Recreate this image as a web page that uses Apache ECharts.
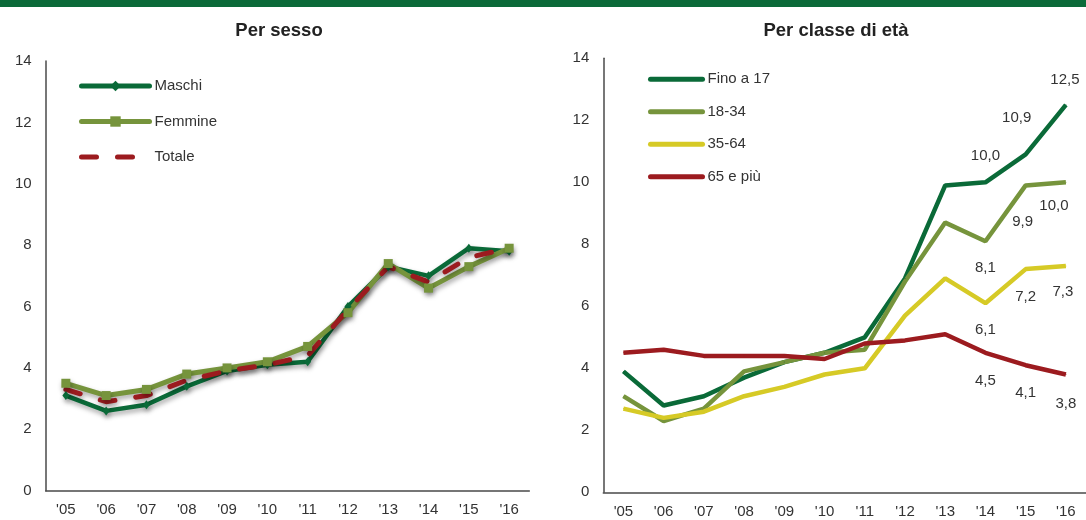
<!DOCTYPE html>
<html>
<head>
<meta charset="utf-8">
<script src="https://cdn.jsdelivr.net/npm/echarts@6/dist/echarts.min.js"></script>
<style>
html,body{margin:0;padding:0;background:#fff;}
#chart{width:1086px;height:520px;}
</style>
</head>
<body>
<div id="chart"></div>
<script>
// ---- data ----
const years = ["'05","'06","'07","'08","'09","'10","'11","'12","'13","'14","'15","'16"];
const yTicks = [0, 2, 4, 6, 8, 10, 12, 14];

const titleLeft = 'Per sesso';
const titleRight = 'Per classe di età';

const maschi  = [3.1, 2.6, 2.8, 3.4, 3.9, 4.1, 4.2, 6.0, 7.3, 7.0, 7.9, 7.8];
const femmine = [3.5, 3.1, 3.3, 3.8, 4.0, 4.2, 4.7, 5.8, 7.4, 6.6, 7.3, 7.9];
const totale  = [3.3, 2.9, 3.1, 3.6, 3.9, 4.1, 4.4, 5.9, 7.3, 6.8, 7.6, 7.9];

const fino17  = [3.9, 2.8, 3.1, 3.7, 4.2, 4.5, 5.0, 6.9, 9.9, 10.0, 10.9, 12.5];
const eta1834 = [3.1, 2.3, 2.7, 3.9, 4.2, 4.5, 4.6, 6.8, 8.7, 8.1, 9.9, 10.0];
const eta3564 = [2.7, 2.4, 2.6, 3.1, 3.4, 3.8, 4.0, 5.7, 6.9, 6.1, 7.2, 7.3];
const eta65   = [4.5, 4.6, 4.4, 4.4, 4.4, 4.3, 4.8, 4.9, 5.1, 4.5, 4.1, 3.8];

const namesLeft  = ['Maschi', 'Femmine', 'Totale'];
const namesRight = ['Fino a 17', '18-34', '35-64', '65 e più'];

// ---- styles ----
const C_DARK = '#0a6a38';
const C_LIGHT = '#76943c';
const C_YELLOW = '#d6ca26';
const C_RED = '#9c1b1f';
const FONT = "'Liberation Sans', Arial, sans-serif";
const TXT = '#333333';
const AX = '#4a4a4a';
const DASH = [15, 21];

const fmt = v => v.toFixed(1).replace('.', ',');

function labelled(values, specs) {
  const first = values.length - specs.length;
  return values.map((v, i) => {
    if (i < first) return v;
    const s = specs[i - first];
    return {
      value: v,
      label: {
        show: true, position: s.pos, distance: s.dist, offset: s.off,
        formatter: p => fmt(p.value), color: TXT, fontFamily: FONT, fontSize: 15
      }
    };
  });
}

const axisX = (gi) => ({
  type: 'category', gridIndex: gi, data: years, boundaryGap: true,
  axisLine: { show: true, lineStyle: { color: AX, width: 1.5 } },
  axisTick: { show: false },
  axisLabel: { color: TXT, fontFamily: FONT, fontSize: 15, margin: 12, interval: 0 },
  splitLine: { show: false }
});
const axisY = (gi) => ({
  type: 'value', gridIndex: gi, min: yTicks[0], max: yTicks[yTicks.length - 1],
  interval: yTicks[1] - yTicks[0],
  axisLine: { show: true, lineStyle: { color: AX, width: 1.5 } },
  axisTick: { show: false },
  axisLabel: { color: TXT, fontFamily: FONT, fontSize: 15, margin: 14 },
  splitLine: { show: false }
});

const shadow = { shadowColor: 'rgba(0,0,0,0.35)', shadowBlur: 5, shadowOffsetY: 3, shadowOffsetX: 1 };
const noShadow = { shadowBlur: 0, shadowOffsetY: 0, shadowOffsetX: 0 };

const option = {
  animation: false,
  backgroundColor: '#ffffff',
  graphic: [
    { type: 'rect', left: 0, top: 0, shape: { width: 1086, height: 7 }, style: { fill: '#0b6a39' } }
  ],
  title: [
    { text: titleLeft, left: 274, top: 26, textAlign: 'center', textVerticalAlign: 'middle',
      textStyle: { fontFamily: FONT, fontSize: 18.5, fontWeight: 'bold', color: '#222' } },
    { text: titleRight, left: 831, top: 26, textAlign: 'center', textVerticalAlign: 'middle',
      textStyle: { fontFamily: FONT, fontSize: 18.5, fontWeight: 'bold', color: '#222' } }
  ],
  legend: [
    {
      data: [
        { name: namesLeft[0] },
        { name: namesLeft[1] },
        { name: namesLeft[2], itemStyle: { opacity: 0 }, lineStyle: Object.assign({ width: 5, cap: 'round', type: DASH }, noShadow) }
      ],
      orient: 'vertical', left: 79, top: 78.5, padding: 0,
      itemWidth: 68, itemHeight: 13, itemGap: 20.5,
      lineStyle: Object.assign({ width: 5, cap: 'round' }, noShadow),
      itemStyle: noShadow,
      textStyle: { color: TXT, fontFamily: FONT, fontSize: 15, lineHeight: 13 },
      selectedMode: false
    },
    {
      data: namesRight, orient: 'vertical', left: 648, top: 71.7, padding: 0,
      itemWidth: 52, itemHeight: 10, itemGap: 17.5,
      itemStyle: { opacity: 0 },
      lineStyle: { width: 5, cap: 'round' },
      textStyle: { color: TXT, fontFamily: FONT, fontSize: 15, lineHeight: 10 },
      selectedMode: false
    }
  ],
  grid: [
    { left: 45.7, top: 61, width: 483.6, height: 429.7 },
    { left: 603.3, top: 58.3, width: 486, height: 434 }
  ],
  xAxis: [axisX(0), axisX(1)],
  yAxis: [axisY(0), axisY(1)],
  series: [
    { name: namesLeft[0], type: 'line', xAxisIndex: 0, yAxisIndex: 0, data: maschi,
      symbol: 'diamond', symbolSize: [7, 9], color: C_DARK,
      lineStyle: Object.assign({ width: 4.5, color: C_DARK }, shadow),
      itemStyle: Object.assign({ color: C_DARK }, shadow) },
    { name: namesLeft[1], type: 'line', xAxisIndex: 0, yAxisIndex: 0, data: femmine,
      symbol: 'rect', symbolSize: 9, color: C_LIGHT,
      lineStyle: Object.assign({ width: 5, color: C_LIGHT }, shadow),
      itemStyle: Object.assign({ color: C_LIGHT }, shadow) },
    { name: namesLeft[2], type: 'line', xAxisIndex: 0, yAxisIndex: 0, data: totale,
      symbol: 'none', color: C_RED,
      lineStyle: Object.assign({ width: 5, color: C_RED, type: DASH, cap: 'round' }, shadow) },

    { name: namesRight[0], type: 'line', xAxisIndex: 1, yAxisIndex: 1, color: C_DARK,
      symbol: 'circle', symbolSize: 1, showSymbol: true,
      lineStyle: { width: 4.5, color: C_DARK }, itemStyle: { color: C_DARK },
      data: labelled(fino17, [
        { pos: 'top', dist: 18, off: [0, 0] },
        { pos: 'top', dist: 18, off: [-9, -11] },
        { pos: 'top', dist: 18, off: [-1, 1] }
      ]) },
    { name: namesRight[1], type: 'line', xAxisIndex: 1, yAxisIndex: 1, color: C_LIGHT,
      symbol: 'circle', symbolSize: 1, showSymbol: true,
      lineStyle: { width: 4.5, color: C_LIGHT }, itemStyle: { color: C_LIGHT },
      data: labelled(eta1834, [
        { pos: 'bottom', dist: 19, off: [0, 0] },
        { pos: 'bottom', dist: 19, off: [-3, 9] },
        { pos: 'bottom', dist: 19, off: [-12, -3] }
      ]) },
    { name: namesRight[2], type: 'line', xAxisIndex: 1, yAxisIndex: 1, color: C_YELLOW,
      symbol: 'circle', symbolSize: 1, showSymbol: true,
      lineStyle: { width: 4.5, color: C_YELLOW }, itemStyle: { color: C_YELLOW },
      data: labelled(eta3564, [
        { pos: 'bottom', dist: 19, off: [0, 0] },
        { pos: 'bottom', dist: 19, off: [0, 1] },
        { pos: 'bottom', dist: 19, off: [-3, -1] }
      ]) },
    { name: namesRight[3], type: 'line', xAxisIndex: 1, yAxisIndex: 1, color: C_RED,
      symbol: 'circle', symbolSize: 1, showSymbol: true,
      lineStyle: { width: 4.5, color: C_RED }, itemStyle: { color: C_RED },
      data: labelled(eta65, [
        { pos: 'bottom', dist: 19, off: [0, 1] },
        { pos: 'bottom', dist: 19, off: [0, 1] },
        { pos: 'bottom', dist: 19, off: [0, 2] }
      ]) }
  ]
};

const chart = echarts.init(document.getElementById('chart'), null, { renderer: 'canvas' });
chart.setOption(option);
</script>
</body>
</html>
